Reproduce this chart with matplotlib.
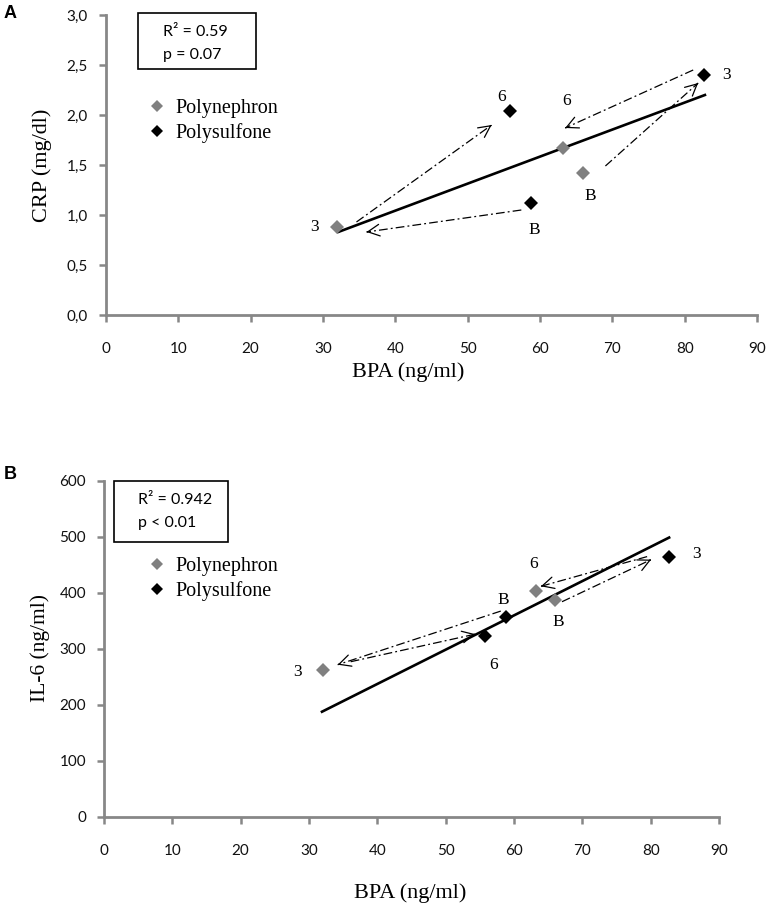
"""BPA vs CRP / IL-6 scatter panels with dialyzer time-course arrows."""

import numpy as np
import matplotlib

matplotlib.use("Agg")
import matplotlib.pyplot as plt
from matplotlib.patches import Rectangle

W, H = 768, 916
SANS = ["Lato", "DejaVu Sans"]
SERIF = ["Liberation Serif", "DejaVu Serif"]
GRAY_PT = "#808080"
AXIS_GRAY = "#878787"

# time points, in the order B, 3, 6
timepoints = ["B", "3", "6"]

# BPA (ng/ml) per membrane
bpa_neph = [66.0, 32.0, 63.2]
bpa_sulf = [58.8, 82.7, 55.8]

# panel A: CRP (mg/dl)
crp_neph = [1.42, 0.88, 1.67]
crp_sulf = [1.12, 2.40, 2.04]
crp_trend_x = [32.1, 82.8]
crp_trend_y = [0.83, 2.20]

# panel B: IL-6 (ng/ml)
il6_neph = [388, 263, 403]
il6_sulf = [357, 465, 323]
il6_trend_x = [31.9, 82.7]
il6_trend_y = [188, 499]

# arrows: (from series, from time point, to series, to time point)
arrow_links = [
    ("sulf", "B", "neph", "3"),
    ("neph", "3", "sulf", "6"),
    ("neph", "B", "sulf", "3"),
    ("sulf", "3", "neph", "6"),
]

fig = plt.figure(figsize=(W / 100, H / 100), dpi=100)


def px_axes(left, top, right, bottom):
    return fig.add_axes([left / W, 1 - bottom / H, (right - left) / W, (bottom - top) / H])


def draw_arrow(ax, p0, p1, off0, off1):
    # offsets in screen pixels, y pointing down
    d0 = ax.transData.transform(p0) + np.array([off0[0], -off0[1]])
    d1 = ax.transData.transform(p1) + np.array([off1[0], -off1[1]])
    u = (d1 - d0) / np.hypot(*(d1 - d0))
    inv = ax.transData.inverted()
    s, e = inv.transform(d0), inv.transform(d1)
    ax.plot([s[0], e[0]], [s[1], e[1]], color="k", lw=0.9,
            dashes=(7, 2.5, 1.5, 2.5), zorder=2)
    back = inv.transform(d1 - u * 1.0)
    ax.annotate("", xy=e, xytext=back,
                arrowprops=dict(arrowstyle="->, head_length=0.7, head_width=0.35",
                                mutation_scale=12, lw=0.9, color="k",
                                shrinkA=0, shrinkB=0))


def draw_panel(ax, y_neph, y_sulf, trend_x, trend_y, ylim, yticks, fmt,
               arrow_offs, offs_neph, offs_sulf, legend_anchor):
    ax.set_xlim(0, 90)
    ax.set_ylim(*ylim)
    ax.set_xticks(np.arange(0, 91, 10))
    ax.set_yticks(yticks)
    ax.set_yticklabels([fmt(v) for v in yticks])

    for side in ("top", "right"):
        ax.spines[side].set_visible(False)
    for side in ("left", "bottom"):
        ax.spines[side].set_color(AXIS_GRAY)
        ax.spines[side].set_linewidth(2.0)
    ax.tick_params(direction="out", length=5, width=1.8, color=AXIS_GRAY,
                   labelsize=11, labelcolor="#111111")
    ax.tick_params(axis="x", pad=14.5)
    ax.tick_params(axis="y", pad=8)
    for lab in ax.get_xticklabels() + ax.get_yticklabels():
        lab.set_family(SANS)

    ax.plot(trend_x, trend_y, color="k", lw=1.9, zorder=3)

    ax.plot(bpa_neph, y_neph, ls="none", marker="D", ms=7.5, mew=0,
            color=GRAY_PT, label="Polynephron", zorder=4)
    ax.plot(bpa_sulf, y_sulf, ls="none", marker="D", ms=7.5, mew=0,
            color="k", label="Polysulfone", zorder=4)

    pts = {
        "neph": dict(zip(timepoints, zip(bpa_neph, y_neph))),
        "sulf": dict(zip(timepoints, zip(bpa_sulf, y_sulf))),
    }
    for (s0, t0, s1, t1), (o0, o1) in zip(arrow_links, arrow_offs):
        draw_arrow(ax, pts[s0][t0], pts[s1][t1], o0, o1)

    for xs, ys, offs in ((bpa_neph, y_neph, offs_neph), (bpa_sulf, y_sulf, offs_sulf)):
        for t, x, y, (dx, dy) in zip(timepoints, xs, ys, offs):
            ax.annotate(t, (x, y), xytext=(dx, -dy), textcoords="offset pixels",
                        ha="center", va="center", fontsize=12.5, family=SERIF)

    ax.legend(loc="upper left", bbox_to_anchor=legend_anchor, frameon=False,
              borderpad=0, borderaxespad=0, handlelength=1.0, handletextpad=0.4,
              labelspacing=0.25, markerscale=0.75, prop=dict(family=SERIF, size=14.5))


def stats_box(left, top, right, bottom, lines, text_x):
    fig.add_artist(Rectangle((left / W, 1 - bottom / H), (right - left) / W,
                             (bottom - top) / H, transform=fig.transFigure,
                             fill=False, lw=1.2, ec="k"))
    for txt, y in lines:
        fig.text(text_x / W, 1 - y / H, txt, ha="left", va="center",
                 fontsize=11.5, family=SANS)


ax_a = px_axes(106, 15, 757, 315)
draw_panel(
    ax_a, crp_neph, crp_sulf, crp_trend_x, crp_trend_y,
    (0, 3.0), np.arange(0, 3.01, 0.5), lambda v: f"{v:.1f}".replace(".", ","),
    arrow_offs=[((-10, 7), (29, 5)), ((19, -5), (-18, 14)),
                ((22, -7), (-6, 8)), ((-11, -5), (2, -20))],
    offs_neph=[(7, 23), (-23, 0), (3, -47)],
    offs_sulf=[(3, 27), (22, 0), (-8, -14)],
    legend_anchor=(0.063, 0.72),
)

ax_b = px_axes(104, 481, 719, 817)
draw_panel(
    ax_b, il6_neph, il6_sulf, il6_trend_x, il6_trend_y,
    (0, 600), np.arange(0, 601, 100), lambda v: f"{v:.0f}",
    arrow_offs=[((-5, -6), (15, -5)), ((28, -8), (-10, -2)),
                ((7, 2), (-18, 3)), ((-22, 0), (5, -5))],
    offs_neph=[(3, 22), (-25, 2), (-2, -27)],
    offs_sulf=[(-3, -17), (27, -3), (8, 29)],
    legend_anchor=(0.070, 0.774),
)

stats_box(138, 13, 256, 69, [("R² = 0.59", 32), ("p = 0.07", 55)], 163)
stats_box(114, 481, 228, 542, [("R² = 0.942", 500), ("p < 0.01", 523)], 138)

fig.text(408 / W, 1 - 372 / H, "BPA (ng/ml)", ha="center", va="center",
         fontsize=16, family=SERIF)
fig.text(410 / W, 1 - 893 / H, "BPA (ng/ml)", ha="center", va="center",
         fontsize=16, family=SERIF)
fig.text(42 / W, 1 - 165 / H, "CRP (mg/dl)", ha="center", va="center",
         rotation=90, fontsize=16, family=SERIF)
fig.text(40 / W, 1 - 648 / H, "IL-6 (ng/ml)", ha="center", va="center",
         rotation=90, fontsize=15.5, family=SERIF)

fig.text(10 / W, 1 - 14 / H, "A", ha="center", va="center", fontsize=13,
         fontweight="bold", family=["Liberation Sans", "DejaVu Sans"])
fig.text(10 / W, 1 - 474 / H, "B", ha="center", va="center", fontsize=13,
         fontweight="bold", family=["Liberation Sans", "DejaVu Sans"])

fig.savefig("out.png", dpi=100)
